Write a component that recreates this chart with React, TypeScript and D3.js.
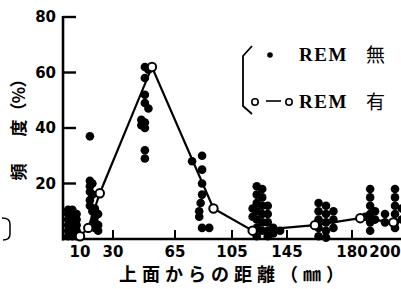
import React from 'react';
import * as d3 from 'd3';

// distance ticks (mm) and their positions are not evenly spaced in the original
const xTicks = [10, 30, 65, 105, 145, 180, 200];
const yTicks = [20, 40, 60, 80];

// REM 無 : scatter of [distance, frequency %]
const remNone: [number, number][] = [
  [3, 1], [3, 3], [3, 5], [3, 7], [3, 9], [3, 10.5],
  [5.5, 1], [5.5, 3], [5.5, 5], [5.5, 7], [5.5, 9], [5.5, 10.5],
  [8, 1], [8, 3], [8, 5], [8, 7], [8, 9],
  [16, 37], [16, 21], [16, 19], [16, 17], [16, 14], [16, 12],
  [17.5, 20], [17.5, 16], [17.5, 10],
  [19, 11], [19, 8], [19, 6], [19, 4],
  [21, 9], [21, 5], [21, 3],
  [48, 62], [48, 58], [48, 52], [48, 49], [48, 42], [48, 40], [48, 32], [48, 29],
  [46, 43], [46, 41], [50, 61], [50, 47],
  [77, 28], [84, 30], [84, 25], [84, 20], [84, 16], [83, 13],
  [82, 10], [82, 8], [84, 4], [89, 4],
  [123, 19], [123, 16], [123, 13], [123, 10], [123, 7], [123, 4], [123, 1],
  [120, 11], [120, 8],
  [127, 18], [127, 15], [127, 12], [127, 9], [127, 6], [127, 3],
  [131, 12], [131, 9], [131, 6], [131, 3], [131, 1],
  [135, 4], [135, 2], [140, 3],
  [162, 13], [162, 10], [162, 7], [162, 4], [162, 1],
  [166, 12], [166, 9], [166, 6], [166, 3], [166, 0.5],
  [170, 10], [170, 7], [170, 4],
  [191, 18], [191, 15], [191, 12], [191, 9], [191, 6], [191, 3],
  [194, 10], [194, 7], [188, 8],
  [206, 18], [206, 15], [206, 12], [206, 9], [206, 6], [206, 4],
  [200, 9], [200, 6], [210, 11], [210, 7],
];

// REM 有 : mean line
const remYesDist = [10, 15, 22, 52, 92, 120, 160, 185, 205, 215];
const remYesVal = [1, 4, 16.5, 62, 11, 3, 5, 7.5, 6, 8];

// y title, drawn char by char (bottom to top)
const yTitle = ['頻', '度', '（', '%', '）'];
const yTitlePos = [172, 128, 111, 95, 79];

export default function App() {
  const W = 401, H = 289;
  const x = d3.scaleLinear()
    .domain([0, 10, 30, 65, 105, 145, 180, 200, 215])
    .range([63, 80, 113, 175, 232, 287, 352, 385, 410]);
  const y = d3.scaleLinear().domain([0, 80]).range([239, 17]);

  const line = d3.line<number>()
    .x((d, i) => x(remYesDist[i]))
    .y(d => y(d));

  const tickFont = { fontFamily: 'DejaVu Sans', fontWeight: 'bold', fontSize: 15 } as const;

  return (
    <svg width={W} height={H} style={{ position: 'absolute', left: 0, top: 0, background: '#fff' }}>
      {/* axes */}
      <line x1={63} x2={63} y1={y(80) - 1} y2={y(0) + 1.5} stroke="#000" strokeWidth={2.6} />
      <line x1={62} x2={W} y1={y(0)} y2={y(0)} stroke="#000" strokeWidth={2.6} />
      {yTicks.map(t => (
        <g key={t}>
          <line x1={63} x2={76} y1={y(t)} y2={y(t)} stroke="#000" strokeWidth={2.4} />
          <text x={56} y={y(t)} dy="0.36em" textAnchor="end" {...tickFont}>{t}</text>
        </g>
      ))}
      {xTicks.map(t => (
        <g key={t}>
          {t !== 10 && t !== 200 && (
            <line x1={x(t)} x2={x(t)} y1={y(0)} y2={y(0) - 9} stroke="#000" strokeWidth={2} />
          )}
          <text x={x(t)} y={257} textAnchor="middle" {...tickFont}>{t}</text>
        </g>
      ))}

      {/* REM 無 dots */}
      {remNone.map(([d, v], i) => (
        <circle key={i} cx={x(d)} cy={y(v)} r={4.3} fill="#000" />
      ))}

      {/* REM 有 line */}
      <path d={line(remYesVal) ?? ''} fill="none" stroke="#000" strokeWidth={2.2} />
      {remYesVal.map((v, i) => (
        <circle key={i} cx={x(remYesDist[i])} cy={y(v)} r={4.2} fill="#fff" stroke="#000" strokeWidth={2} />
      ))}

      {/* axis titles */}
      <text x={119} y={281} fontFamily="Noto Sans CJK JP" fontWeight="bold" fontSize={18} letterSpacing={5}>
        上面からの距離（㎜）
      </text>
      {yTitle.map((c, i) => (
        <text key={i} transform={`translate(25,${yTitlePos[i]}) rotate(-90)`} textAnchor="middle"
          fontFamily="Noto Sans CJK JP" fontWeight="bold" fontSize={17}>{c}</text>
      ))}
      <path d="M2,218 Q10,218 10,224 L10,234 Q10,240 3,240" fill="none" stroke="#000" strokeWidth={1.5} />

      {/* legend */}
      <path d="M252,46 L243,56 L243,106 L252,114" fill="none" stroke="#000" strokeWidth={1.8} />
      <circle cx={270} cy={55} r={2.8} fill="#000" />
      <circle cx={255} cy={102} r={3.2} fill="#fff" stroke="#000" strokeWidth={1.6} />
      <line x1={266} x2={281} y1={101} y2={101} stroke="#000" strokeWidth={1.6} />
      <circle cx={289} cy={102} r={3.2} fill="#fff" stroke="#000" strokeWidth={1.6} />
      <text x={299} y={61} fontFamily="Liberation Serif" fontWeight="bold" fontSize={19} letterSpacing={1.5}>REM</text>
      <text x={366} y={62} fontFamily="Noto Sans CJK JP" fontSize={19}>無</text>
      <text x={299} y={108} fontFamily="Liberation Serif" fontWeight="bold" fontSize={19} letterSpacing={1.5}>REM</text>
      <text x={366} y={109} fontFamily="Noto Sans CJK JP" fontSize={19}>有</text>
    </svg>
  );
}
